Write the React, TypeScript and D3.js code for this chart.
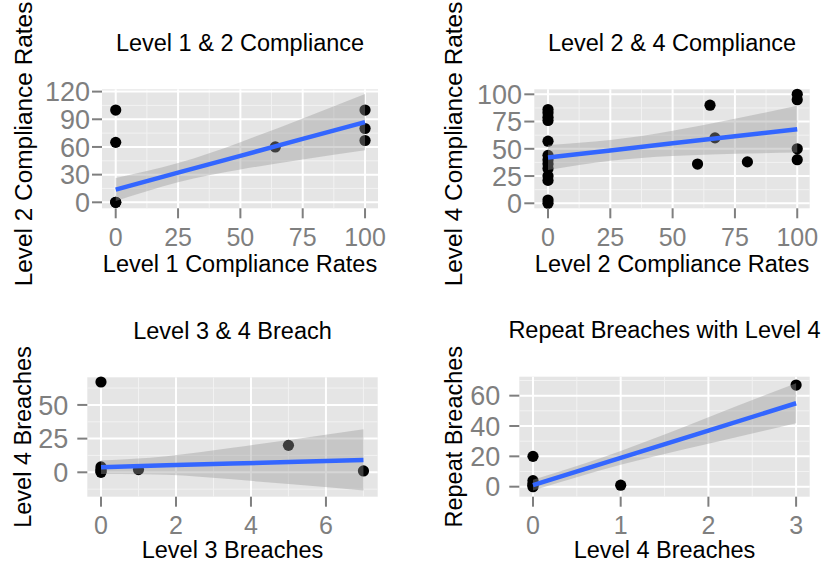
import React from "react";
import * as d3 from "d3";

// ---------- Data ----------
// Panel 1: Level 1 & 2 Compliance
const p1X = [0, 0, 0, 0, 64, 100, 100, 100];
const p1Y = [0, 0, 65, 100, 60, 67, 80, 100];
const p1SmoothX = [0, 25, 50, 75, 100];
const p1Fit = [13.8, 32.1, 50.4, 68.7, 87];
const p1Upper = [26.3, 42.5, 65.2, 90.9, 117.5];
const p1Lower = [1.3, 21.7, 35.6, 46.5, 56.5];
const p1XTicks = [0, 25, 50, 75, 100];
const p1YTicks = [0, 30, 60, 90, 120];

// Panel 2: Level 2 & 4 Compliance
const p2X = [0, 0, 0, 0, 0, 0, 0, 0, 0, 0, 0, 0, 0, 60, 65, 67, 80, 100, 100, 100, 100];
const p2Y = [0, 3, 21, 25, 32, 36, 40, 44, 57, 76, 79, 83, 86, 36, 90, 60, 38, 40, 50, 95, 100];
const p2SmoothX = [0, 25, 50, 75, 100];
const p2Fit = [42, 48.5, 55, 61.5, 68];
const p2Upper = [53.5, 58, 66.5, 77.5, 89.5];
const p2Lower = [30.5, 39, 43.5, 45.5, 46.5];
const p2XTicks = [0, 25, 50, 75, 100];
const p2YTicks = [0, 25, 50, 75, 100];

// Panel 3: Level 3 & 4 Breach
const p3X = [0, 0, 0, 0, 0, 1, 5, 7];
const p3Y = [0, 1, 2, 4, 67, 2, 20, 1];
const p3SmoothX = [0, 1.75, 3.5, 5.25, 7];
const p3Fit = [3.8, 5.15, 6.5, 7.85, 9.2];
const p3Upper = [8.8, 12.0, 18.2, 24.95, 31.9];
const p3Lower = [-1.2, -1.75, -5.2, -9.25, -13.5];
const p3XTicks = [0, 2, 4, 6];
const p3YTicks = [0, 25, 50];

// Panel 4: Repeat Breaches with Level 4
const p4X = [0, 0, 0, 0, 0, 1, 3];
const p4Y = [0, 1, 2, 4, 20, 1, 67];
const p4SmoothX = [0, 1, 2, 3];
const p4Fit = [1, 19, 37, 55];
const p4Upper = [4.5, 23.6, 45.8, 68.2];
const p4Lower = [-2.5, 14.4, 28.3, 41.8];
const p4XTicks = [0, 1, 2, 3];
const p4YTicks = [0, 20, 40, 60];

const titles = [
  "Level 1 & 2 Compliance",
  "Level 2 & 4 Compliance",
  "Level 3 & 4 Breach",
  "Repeat Breaches with Level 4",
];
const xTitles = [
  "Level 1 Compliance Rates",
  "Level 2 Compliance Rates",
  "Level 3 Breaches",
  "Level 4 Breaches",
];
const yTitles = [
  "Level 2 Compliance Rates",
  "Level 4 Compliance Rates",
  "Level 4 Breaches",
  "Repeat Breaches",
];

// ---------- Layout ----------
const FONT = "'Liberation Sans', Arial, Helvetica, sans-serif";
const layouts = [
  { x0: 102, x1: 378, y0: 89.3, y1: 208.3, xd: [-5.5, 105.2], yd: [-6.5, 122.5], yTitleX: 31.5, yTitleY: 144, yTitleSize: 24.4, yLabRight: 90 },
  { x0: 534.3, x1: 809.7, y0: 89.3, y1: 208.3, xd: [-5.5, 105], yd: [-4.6, 104.6], yTitleX: 462, yTitleY: 144, yTitleSize: 24.4, yLabRight: 522 },
  { x0: 87.3, x1: 377.7, y0: 377.3, y1: 496.7, xd: [-0.365, 7.38], yd: [-18.1, 70.5], yTitleX: 30.5, yTitleY: 437, yTitleSize: 23.5, yLabRight: 68.3 },
  { x0: 519.3, x1: 809.7, y0: 376.7, y1: 496.7, xd: [-0.156, 3.155], yd: [-6.6, 72.5], yTitleX: 461.5, yTitleY: 436.7, yTitleSize: 23.5, yLabRight: 500.3 },
];

function minors(ticks: number[], domain: number[]) {
  const step = ticks[1] - ticks[0];
  const out: number[] = [];
  for (let v = ticks[0] - step / 2; v <= ticks[ticks.length - 1] + step / 2 + 1e-9; v += step) {
    if (v >= domain[0] && v <= domain[1]) out.push(v);
  }
  return out;
}

type PanelProps = {
  idx: number;
  px: number[];
  py: number[];
  sx: number[];
  fit: number[];
  lo: number[];
  hi: number[];
  xTicks: number[];
  yTicks: number[];
};

function Panel({ idx, px, py, sx, fit, lo, hi, xTicks, yTicks }: PanelProps) {
  const L = layouts[idx];
  const x = d3.scaleLinear().domain(L.xd).range([L.x0, L.x1]);
  const y = d3.scaleLinear().domain(L.yd).range([L.y1, L.y0]);
  const xMin = minors(xTicks, L.xd);
  const yMin = minors(yTicks, L.yd);
  const band = sx.map((v, i) => ({ x: v, lo: lo[i], hi: hi[i], f: fit[i] }));
  const area = d3
    .area<any>()
    .x((d) => x(d.x))
    .y0((d) => y(d.lo))
    .y1((d) => y(d.hi))
    .curve(d3.curveNatural)(band) as string;
  const line = d3
    .line<any>()
    .x((d) => x(d.x))
    .y((d) => y(d.f))(band) as string;
  const cx = (L.x0 + L.x1) / 2;
  const titleY = L.y0 - 38.6;
  return (
    <g>
      <rect x={L.x0} y={L.y0} width={L.x1 - L.x0} height={L.y1 - L.y0} fill="#E5E5E5" />
      {xMin.map((v) => (
        <line key={"xm" + v} x1={x(v)} x2={x(v)} y1={L.y0} y2={L.y1} stroke="#F2F2F2" strokeWidth={1} />
      ))}
      {yMin.map((v) => (
        <line key={"ym" + v} x1={L.x0} x2={L.x1} y1={y(v)} y2={y(v)} stroke="#F2F2F2" strokeWidth={1} />
      ))}
      {xTicks.map((v) => (
        <line key={"xg" + v} x1={x(v)} x2={x(v)} y1={L.y0} y2={L.y1} stroke="#FFFFFF" strokeWidth={2} />
      ))}
      {yTicks.map((v) => (
        <line key={"yg" + v} x1={L.x0} x2={L.x1} y1={y(v)} y2={y(v)} stroke="#FFFFFF" strokeWidth={2} />
      ))}
      {px.map((v, i) => (
        <circle key={"p" + i} cx={x(v)} cy={y(py[i])} r={5.6} fill="#000000" />
      ))}
      <path d={area} fill="#999999" fillOpacity={0.4} />
      <path d={line} fill="none" stroke="#3366FF" strokeWidth={4.5} />
      {xTicks.map((v) => (
        <line key={"xt" + v} x1={x(v)} x2={x(v)} y1={L.y1} y2={L.y1 + 10} stroke="#7F7F7F" strokeWidth={2} />
      ))}
      {yTicks.map((v) => (
        <line key={"yt" + v} x1={L.x0 - 10} x2={L.x0} y1={y(v)} y2={y(v)} stroke="#7F7F7F" strokeWidth={2} />
      ))}
      {xTicks.map((v) => (
        <text key={"xl" + v} x={x(v)} y={L.y1 + 37.5} textAnchor="middle" fontSize={25} fill="#7F7F7F" fontFamily={FONT}>
          {String(v)}
        </text>
      ))}
      {yTicks.map((v) => (
        <text key={"yl" + v} x={L.yLabRight} y={y(v)} dy="0.36em" textAnchor="end" fontSize={27} fill="#7F7F7F" fontFamily={FONT}>
          {String(v)}
        </text>
      ))}
      <text x={cx} y={titleY} textAnchor="middle" fontSize={23.5} fill="#000" fontFamily={FONT}>
        {titles[idx]}
      </text>
      <text x={cx} y={Math.min(L.y1 + 64, 557.5)} textAnchor="middle" fontSize={23.5} fill="#000" fontFamily={FONT}>
        {xTitles[idx]}
      </text>
      <text
        transform={`translate(${L.yTitleX},${L.yTitleY}) rotate(-90)`}
        textAnchor="middle"
        fontSize={L.yTitleSize}
        fill="#000"
        fontFamily={FONT}
      >
        {yTitles[idx]}
      </text>
    </g>
  );
}

export default function App() {
  return (
    <div style={{ position: "absolute", left: 0, top: 0 }}>
      <svg width={825} height={562} style={{ display: "block", background: "#FFFFFF" }}>
        <rect x={0} y={0} width={825} height={562} fill="#FFFFFF" />
        <Panel idx={0} px={p1X} py={p1Y} sx={p1SmoothX} fit={p1Fit} lo={p1Lower} hi={p1Upper} xTicks={p1XTicks} yTicks={p1YTicks} />
        <Panel idx={1} px={p2X} py={p2Y} sx={p2SmoothX} fit={p2Fit} lo={p2Lower} hi={p2Upper} xTicks={p2XTicks} yTicks={p2YTicks} />
        <Panel idx={2} px={p3X} py={p3Y} sx={p3SmoothX} fit={p3Fit} lo={p3Lower} hi={p3Upper} xTicks={p3XTicks} yTicks={p3YTicks} />
        <Panel idx={3} px={p4X} py={p4Y} sx={p4SmoothX} fit={p4Fit} lo={p4Lower} hi={p4Upper} xTicks={p4XTicks} yTicks={p4YTicks} />
      </svg>
    </div>
  );
}
